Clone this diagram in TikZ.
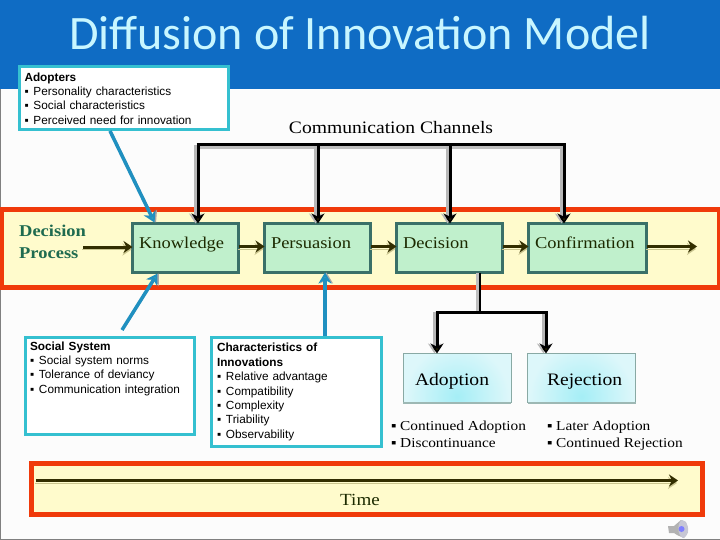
\documentclass[tikz,border=0pt]{standalone}
\usepackage{fontspec}
\setmainfont{Liberation Sans}
\newfontfamily\titlefont{Carlito}
\newfontfamily\ser[FakeStretch=1.12]{Liberation Serif}
\usetikzlibrary{arrows.meta,positioning,calc}
\definecolor{headblue}{HTML}{0F6CC4}
\definecolor{titlecol}{HTML}{C8F6FF}
\definecolor{cyanline}{HTML}{35C0D0}
\definecolor{redline}{HTML}{F03A0A}
\definecolor{paleyellow}{HTML}{FFFBCC}
\definecolor{tealline}{HTML}{3A7068}
\definecolor{mintfill}{HTML}{C0F0CC}
\definecolor{darktip}{HTML}{332E00}
\definecolor{tanshadow}{HTML}{C9C48E}
\definecolor{linkblue}{HTML}{2090C0}
\definecolor{tipteal}{HTML}{35A5B5}
\definecolor{greentext}{HTML}{1F6B50}
\definecolor{darktext}{HTML}{1C2A00}
\definecolor{glowin}{HTML}{A5EEF6}
\definecolor{glowout}{HTML}{DDF7FA}
\newcommand{\itm}[1]{\makebox[9pt][l]{▪}#1\\}
\newcommand{\stagetext}[1]{\raisebox{0pt}[0pt][0pt]{#1}}
\tikzset{
  x=1pt,y=-1pt,
  infobox/.style={draw=cyanline,line width=3pt,fill=white,anchor=north west,outer sep=0pt,inner sep=0pt,
    align=left,font=\fontsize{11.8}{14.4}\selectfont,text=black},
  stagebox/.style={draw=tealline,line width=3pt,fill=mintfill,anchor=north west,outer sep=0pt,
    inner xsep=6.5pt,inner ysep=0pt,minimum height=49pt,align=left,
    font=\ser\fontsize{16.5}{18}\selectfont,text=darktext},
  redband/.style={draw=redline,line width=5pt,fill=paleyellow,anchor=north west,outer sep=0pt,inner sep=0pt},
  resultbox/.style={draw=tealline!60,line width=1pt,anchor=north west,outer sep=0pt,
    minimum width=108pt,minimum height=49pt,inner ysep=0pt,align=left,font=\ser\fontsize{17.5}{18}\selectfont,text=black,
    path picture={\fill[glowout] (path picture bounding box.south west) rectangle (path picture bounding box.north east);
      \shade[inner color=glowin,outer color=glowout] ([yshift=6pt]path picture bounding box.south) circle (52pt);}},
  plain/.style={text=black,align=left,anchor=north west,inner sep=0pt},
  flow/.style={draw=darktip,line width=3pt,-{Stealth[length=9pt,width=12pt]},
    preaction={draw=tanshadow,transform canvas={yshift=-2.5pt,xshift=-1pt}}},
  channel/.style={draw=black,line width=3pt},
  channelshadow/.style={draw=black!25,line width=3pt},
  drop/.style={draw=black,line width=3pt,-{Stealth[length=10pt,width=13pt,fill=darktip]},
    preaction={draw=black!28,line width=3.5pt,transform canvas={xshift=-2.5pt}}},
  influence/.style={draw=linkblue,line width=3.5pt,-{Stealth[length=11pt,width=13pt,fill=tipteal]},
    preaction={draw=black!35,transform canvas={xshift=1.5pt}}},
}
\begin{document}
\begin{tikzpicture}
\useasboundingbox (0,0) rectangle (720,540);
\fill[white!99!black] (0,0) rectangle (720,540);
\draw[black!50,line width=1pt] (0.5,89) -- (0.5,539.5) -- (720,539.5);
% header
\fill[headblue] (0,0) rectangle (720,89);
\node[font=\titlefont\fontsize{48}{50}\selectfont,text=titlecol,inner sep=0pt] (title) at (360,33) {Diffusion of Innovation Model};

% bands
\node[redband,minimum width=718pt,minimum height=77pt] (processband) at (1,210) {};
\node[redband,minimum width=671pt,minimum height=51pt] (timeband) at (31,463) {};

% info boxes
\node[infobox,minimum width=208pt,minimum height=63pt,text width=199pt,inner xsep=5pt] (adopters) at (19.5,67) {\textbf{Adopters}\\\itm{Personality characteristics}\itm{Social characteristics}\itm{Perceived need for innovation}};
\node[infobox,minimum width=168pt,minimum height=97pt,text width=159pt,inner xsep=5pt] (social) at (25,337.5) {\vbox to 91pt{\hsize=159pt\parindent=0pt\baselineskip=14.4pt\vspace*{1pt}\textbf{Social System}\\\itm{Social system norms}\itm{Tolerance of deviancy}\itm{Communication integration}\vss}};
\node[infobox,minimum width=168pt,minimum height=109pt,text width=158pt,inner xsep=6pt] (innov) at (211,337.5) {\textbf{Characteristics of}\\\textbf{Innovations}\\\itm{Relative advantage}\itm{Compatibility}\itm{Complexity}\itm{Triability}\itm{Observability}};

% stages
\node[stagebox,minimum width=106pt,text width=93pt] (knowledge) at (132.5,223.5) {\stagetext{Knowledge}};
\node[stagebox,minimum width=106pt,text width=93pt] (persuasion) at (264.5,223.5) {\stagetext{Persuasion}};
\node[stagebox,minimum width=106pt,text width=93pt] (decision) at (396.5,223.5) {\stagetext{Decision}};
\node[stagebox,minimum width=118pt,text width=105pt] (confirmation) at (528.5,223.5) {\stagetext{Confirmation}};

% labels
\node[font=\ser\bfseries\fontsize{16.5}{22}\selectfont,text=greentext,align=left,anchor=north west,inner sep=0pt] (process) at (19,225) {Decision\\Process};
\node[font=\ser\fontsize{17.5}{19}\selectfont,text=black,inner sep=0pt] (channels) at (391,128) {Communication Channels};
\node[font=\ser\fontsize{17}{18}\selectfont,text=darktext,inner sep=0pt] (time) at (360,500) {Time};
\coordinate (flowstart) at (83,247);
\coordinate (flowend) at (697,246.5);
\coordinate (timestart) at (36,480.5);
\coordinate (timeend) at (678,480.5);

% flow arrows
\draw[flow] (flowstart) -- (flowstart -| knowledge.west);
\draw[flow] (knowledge.east |- flowend) -- (flowend -| persuasion.west);
\draw[flow] (persuasion.east |- flowend) -- (flowend -| decision.west);
\draw[flow] (decision.east |- flowend) -- (flowend -| confirmation.west);
\draw[flow] (confirmation.east |- flowend) -- (flowend);
\draw[flow,line width=2.4pt] (timestart) -- (timeend);

% communication channels
\coordinate (ch1) at (198,145);
\coordinate (ch2) at (318,145);
\coordinate (ch3) at (450,145);
\coordinate (ch4) at (564,145);
\draw[channelshadow] ([yshift=-2.5pt]ch1) -- ([yshift=-2.5pt]ch4);
\draw[drop] (ch1) -- (ch1 |- knowledge.north);
\draw[drop] (ch2) -- (ch2 |- persuasion.north);
\draw[drop] (ch3) -- (ch3 |- decision.north);
\draw[drop] (ch4) -- (ch4 |- confirmation.north);
\draw[channel] ([xshift=-1.5pt]ch1) -- ([xshift=1.5pt]ch4);

% influences
\coordinate (adopterfoot) at (110,131);
\coordinate (socialfoot) at (122,330);
\draw[influence] (adopterfoot) -- ([xshift=22pt,yshift=1pt]knowledge.north west);
\draw[influence] (socialfoot) -- ([xshift=25pt,yshift=-1pt]knowledge.south west);
\coordinate (innovfoot) at (325,336);
\draw[influence] (innovfoot) -- (innovfoot |- persuasion.south);

% results
\node[resultbox,text width=84pt,inner xsep=12pt] (adoption) at (403,353.5) {\raisebox{-7pt}[0pt][0pt]{Adoption}};
\node[resultbox,text width=69pt,inner xsep=19.5pt] (rejection) at (527.5,353.5) {\raisebox{-7pt}[0pt][0pt]{Rejection}};
\draw[tealline!50!white,line width=2.5pt] ([yshift=-0.5pt]adoption.south west) -- ([yshift=-0.5pt]adoption.south east);
\draw[tealline!50!white,line width=2.5pt] ([yshift=-0.5pt]rejection.south west) -- ([yshift=-0.5pt]rejection.south east);
\coordinate (split) at (480,312);
\coordinate (dropa) at (437,312);
\coordinate (dropr) at (546,312);
\draw[channelshadow,line width=3.5pt] ([xshift=-2.5pt]decision.south -| split) -- ([xshift=-2.5pt]split);
\draw[channel,line width=2pt] (decision.south -| split) -- (split);
\draw[drop] (dropa) -- (dropa |- adoption.north);
\draw[drop] (dropr) -- (dropr |- rejection.north);
\draw[channel] ([xshift=-1.5pt]dropa) -- ([xshift=1.5pt]dropr);

% outcome lists
\node[plain,font=\ser\fontsize{13.7}{17}\selectfont] (adoptlist) at (391,421) {\makebox[9pt][l]{▪}Continued Adoption\\\makebox[9pt][l]{▪}Discontinuance};
\node[plain,font=\ser\fontsize{13.7}{17}\selectfont] (rejectlist) at (547,421) {\makebox[9pt][l]{▪}Later Adoption\\\makebox[9pt][l]{▪}Continued Rejection};

% speaker icon
\fill[black!30] (668,526) -- (674,526) -- (681,520) -- (686,522) -- (688,532) -- (684,538) -- (677,535) -- (674,533) -- (669,533) -- cycle;
\fill[blue!25!black!22] (682,520) .. controls (690,522) and (690,536) .. (683,538) .. controls (677,535) and (677,523) .. (682,520) -- cycle;
\fill[blue!50!white] (681.5,529) circle (3pt);
\end{tikzpicture}
\end{document}
